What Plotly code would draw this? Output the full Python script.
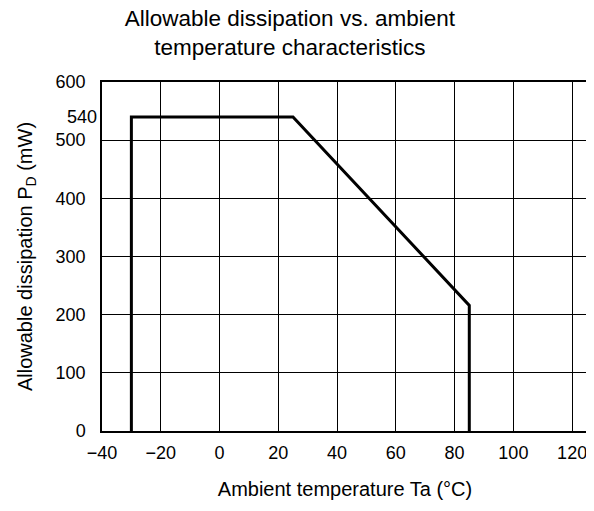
import plotly.graph_objects as go

# Data: derating curve
temp_c = [-30, -30, 25, 85, 85]
power_mw = [0, 540, 540, 216, 0]

x_ticks = [-40, -20, 0, 20, 40, 60, 80, 100, 120]
y_ticks = [0, 100, 200, 300, 400, 500, 600]
y_extra_tick = [540]

FONT = "Arial, Liberation Sans, sans-serif"
TICK = 18
AXT = 20

fig = go.Figure()
fig.add_trace(go.Scatter(
    x=temp_c, y=power_mw, mode="lines",
    line=dict(color="black", width=3), showlegend=False,
))
# invisible trace on second y axis for the 540 label
fig.add_trace(go.Scatter(x=[None], y=[None], yaxis="y2", showlegend=False))

fig.update_layout(
    width=586, height=503,
    margin=dict(l=94, r=4, t=74, b=80),
    paper_bgcolor="white", plot_bgcolor="white",
    font=dict(family=FONT, color="black", size=TICK),
    title=dict(
        text="Allowable dissipation vs. ambient<br>temperature characteristics",
        x=0.481, xanchor="center", xref="container",
        y=0.964, yanchor="top", yref="container",
        font=dict(size=22.5, family=FONT, color="black"),
    ),
    xaxis=dict(
        range=[-40, 125.4], tickvals=x_ticks,
        showgrid=True, gridcolor="black", gridwidth=1.2,
        showline=True, linecolor="black", linewidth=1.5, mirror=True,
        zeroline=False, ticks="", ticklabelstandoff=5,
        title=dict(text="Ambient temperature Ta (°C)", standoff=20,
                   font=dict(size=AXT)),
        tickfont=dict(size=TICK),
    ),
    yaxis=dict(
        range=[0, 600], tickvals=y_ticks,
        showgrid=True, gridcolor="black", gridwidth=1.2,
        showline=True, linecolor="black", linewidth=1.5, mirror=True,
        zeroline=False, ticks="", ticklabelstandoff=11,
        title=dict(text="Allowable dissipation P<sub>D</sub> (mW)", standoff=18,
                   font=dict(size=AXT)),
        tickfont=dict(size=TICK),
    ),
    yaxis2=dict(
        range=[0, 600], tickvals=y_extra_tick, overlaying="y", side="left",
        showgrid=False, showline=False, zeroline=False, ticks="",
        ticklabelstandoff=4, tickfont=dict(size=TICK),
    ),
)

fig.write_html("out.html")
